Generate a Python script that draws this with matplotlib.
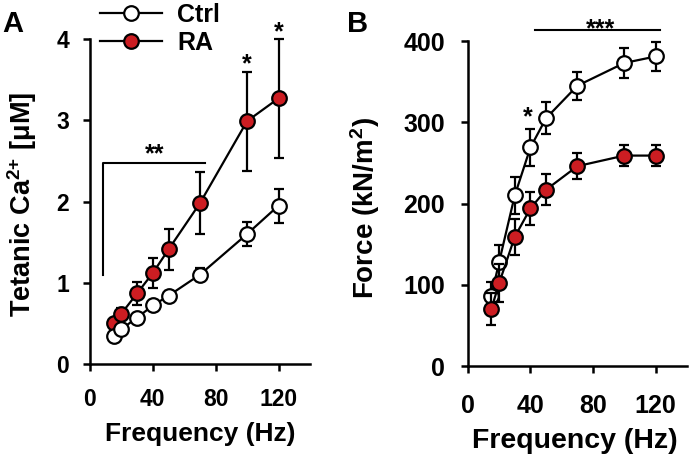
import numpy as np
import matplotlib.pyplot as plt
from matplotlib.lines import Line2D

plt.rcParams['font.family'] = ['Liberation Sans', 'DejaVu Sans']
plt.rcParams['font.weight'] = 'bold'
plt.rcParams['mathtext.fontset'] = 'custom'
plt.rcParams['mathtext.rm'] = 'Liberation Sans:bold'
plt.rcParams['mathtext.it'] = 'Liberation Sans:bold'
plt.rcParams['mathtext.bf'] = 'Liberation Sans:bold'

freq = [15, 20, 30, 40, 50, 70, 100, 120]

# panel A: tetanic Ca2+ (uM)
ca_ctrl = [0.35, 0.43, 0.57, 0.72, 0.84, 1.10, 1.60, 1.95]
ca_ctrl_err = [0.03, 0.03, 0.04, 0.05, 0.06, 0.08, 0.15, 0.21]
ca_ra = [0.50, 0.62, 0.87, 1.12, 1.41, 1.98, 2.99, 3.27]
ca_ra_err = [0.05, 0.07, 0.14, 0.18, 0.25, 0.38, 0.61, 0.73]

# panel B: force (kN/m2)
f_ctrl = [86, 128, 210, 269, 305, 345, 373, 381]
f_ctrl_err = [18, 21, 23, 23, 20, 17, 18, 18]
f_ra = [70, 102, 159, 194, 217, 246, 259, 259]
f_ra_err = [20, 23, 22, 20, 19, 16, 13, 13]

red = '#cc1d22'
fig = plt.figure(figsize=(6.89, 4.59), dpi=100)
axA = fig.add_axes([0.1306, 0.207, 0.3193, 0.708])
axB = fig.add_axes([0.679, 0.2026, 0.318, 0.708])

ms = 10.5
def draw(ax, y1, e1, y2, e2, ctrl_top, tsize, lsize, xpad, ypad):
  zc = 4 if ctrl_top else 3
  zr = 3 if ctrl_top else 4
  ax.errorbar(freq, y2, yerr=e2, fmt='o-', color='black', mfc=red, mec='black',
              ms=ms, mew=1.6, lw=1.6, elinewidth=1.6, capsize=3.5, capthick=1.6,
              zorder=zr, clip_on=False)
  ax.errorbar(freq, y1, yerr=e1, fmt='o-', color='black', mfc='white', mec='black',
              ms=ms, mew=1.6, lw=1.6, elinewidth=1.6, capsize=3.5, capthick=1.6,
              zorder=zc, clip_on=False)
  for s in ['top', 'right']:
    ax.spines[s].set_visible(False)
  for s in ['left', 'bottom']:
    ax.spines[s].set_linewidth(1.8)
  ax.tick_params(direction='out', length=5, width=1.8, labelsize=tsize)
  ax.tick_params(axis='x', pad=xpad)
  ax.tick_params(axis='y', pad=ypad)
  ax.set_xlim(0, 140)
  ax.set_xticks([0, 40, 80, 120])
  ax.set_xlabel('Frequency (Hz)', fontsize=lsize, fontweight='bold')

draw(axA, ca_ctrl, ca_ctrl_err, ca_ra, ca_ra_err, True, 16.5, 19, 12, 10)
axA.set_ylim(0, 4)
axA.set_yticks([0, 1, 2, 3, 4])
axA.set_ylabel('Tetanic Ca$^{2{+}}$ [μM]', fontsize=19.5, fontweight='bold')
axA.yaxis.set_label_coords(-0.23, 0.49)
axA.xaxis.set_label_coords(0.5, -0.18)
axA.plot([8.5, 8.5, 73], [1.09, 2.48, 2.48], color='black', lw=1.5, clip_on=False)
axA.text(41, 2.49, '**', fontsize=18, ha='center', va='baseline')
axA.text(100, 3.6, '*', fontsize=18, ha='center', va='baseline')
axA.text(120, 4.0, '*', fontsize=18, ha='center', va='baseline')

handles = [Line2D([], [], color='black', lw=1.6, marker='o', ms=ms, mew=1.6, mfc='white', mec='black'),
           Line2D([], [], color='black', lw=1.6, marker='o', ms=ms, mew=1.6, mfc=red, mec='black')]
fig.legend(handles, ['Ctrl', 'RA'], loc='upper left', bbox_to_anchor=(0.145, 0.993), frameon=False,
           fontsize=18, handlelength=2.5, handletextpad=0.6, labelspacing=0.14,
           borderpad=0, borderaxespad=0)

draw(axB, f_ctrl, f_ctrl_err, f_ra, f_ra_err, False, 18, 20.5, 15, 11.5)
axB.set_ylim(0, 400)
axB.set_yticks([0, 100, 200, 300, 400])
axB.set_ylabel('Force (kN/m$^2$)', fontsize=20, fontweight='bold')
axB.yaxis.set_label_coords(-0.393, 0.486)
axB.xaxis.set_label_coords(0.49, -0.19)
axB.text(38.6, 297, '*', fontsize=18, ha='center', va='baseline')
axB.plot([43, 123], [414, 414], color='black', lw=1.5, clip_on=False)
axB.text(85, 406, '***', fontsize=18, ha='center', va='baseline')

fig.text(0.004, 0.930, 'A', fontsize=21, fontweight='bold')
fig.text(0.504, 0.930, 'B', fontsize=21, fontweight='bold')

fig.savefig('out.png', dpi=100)
